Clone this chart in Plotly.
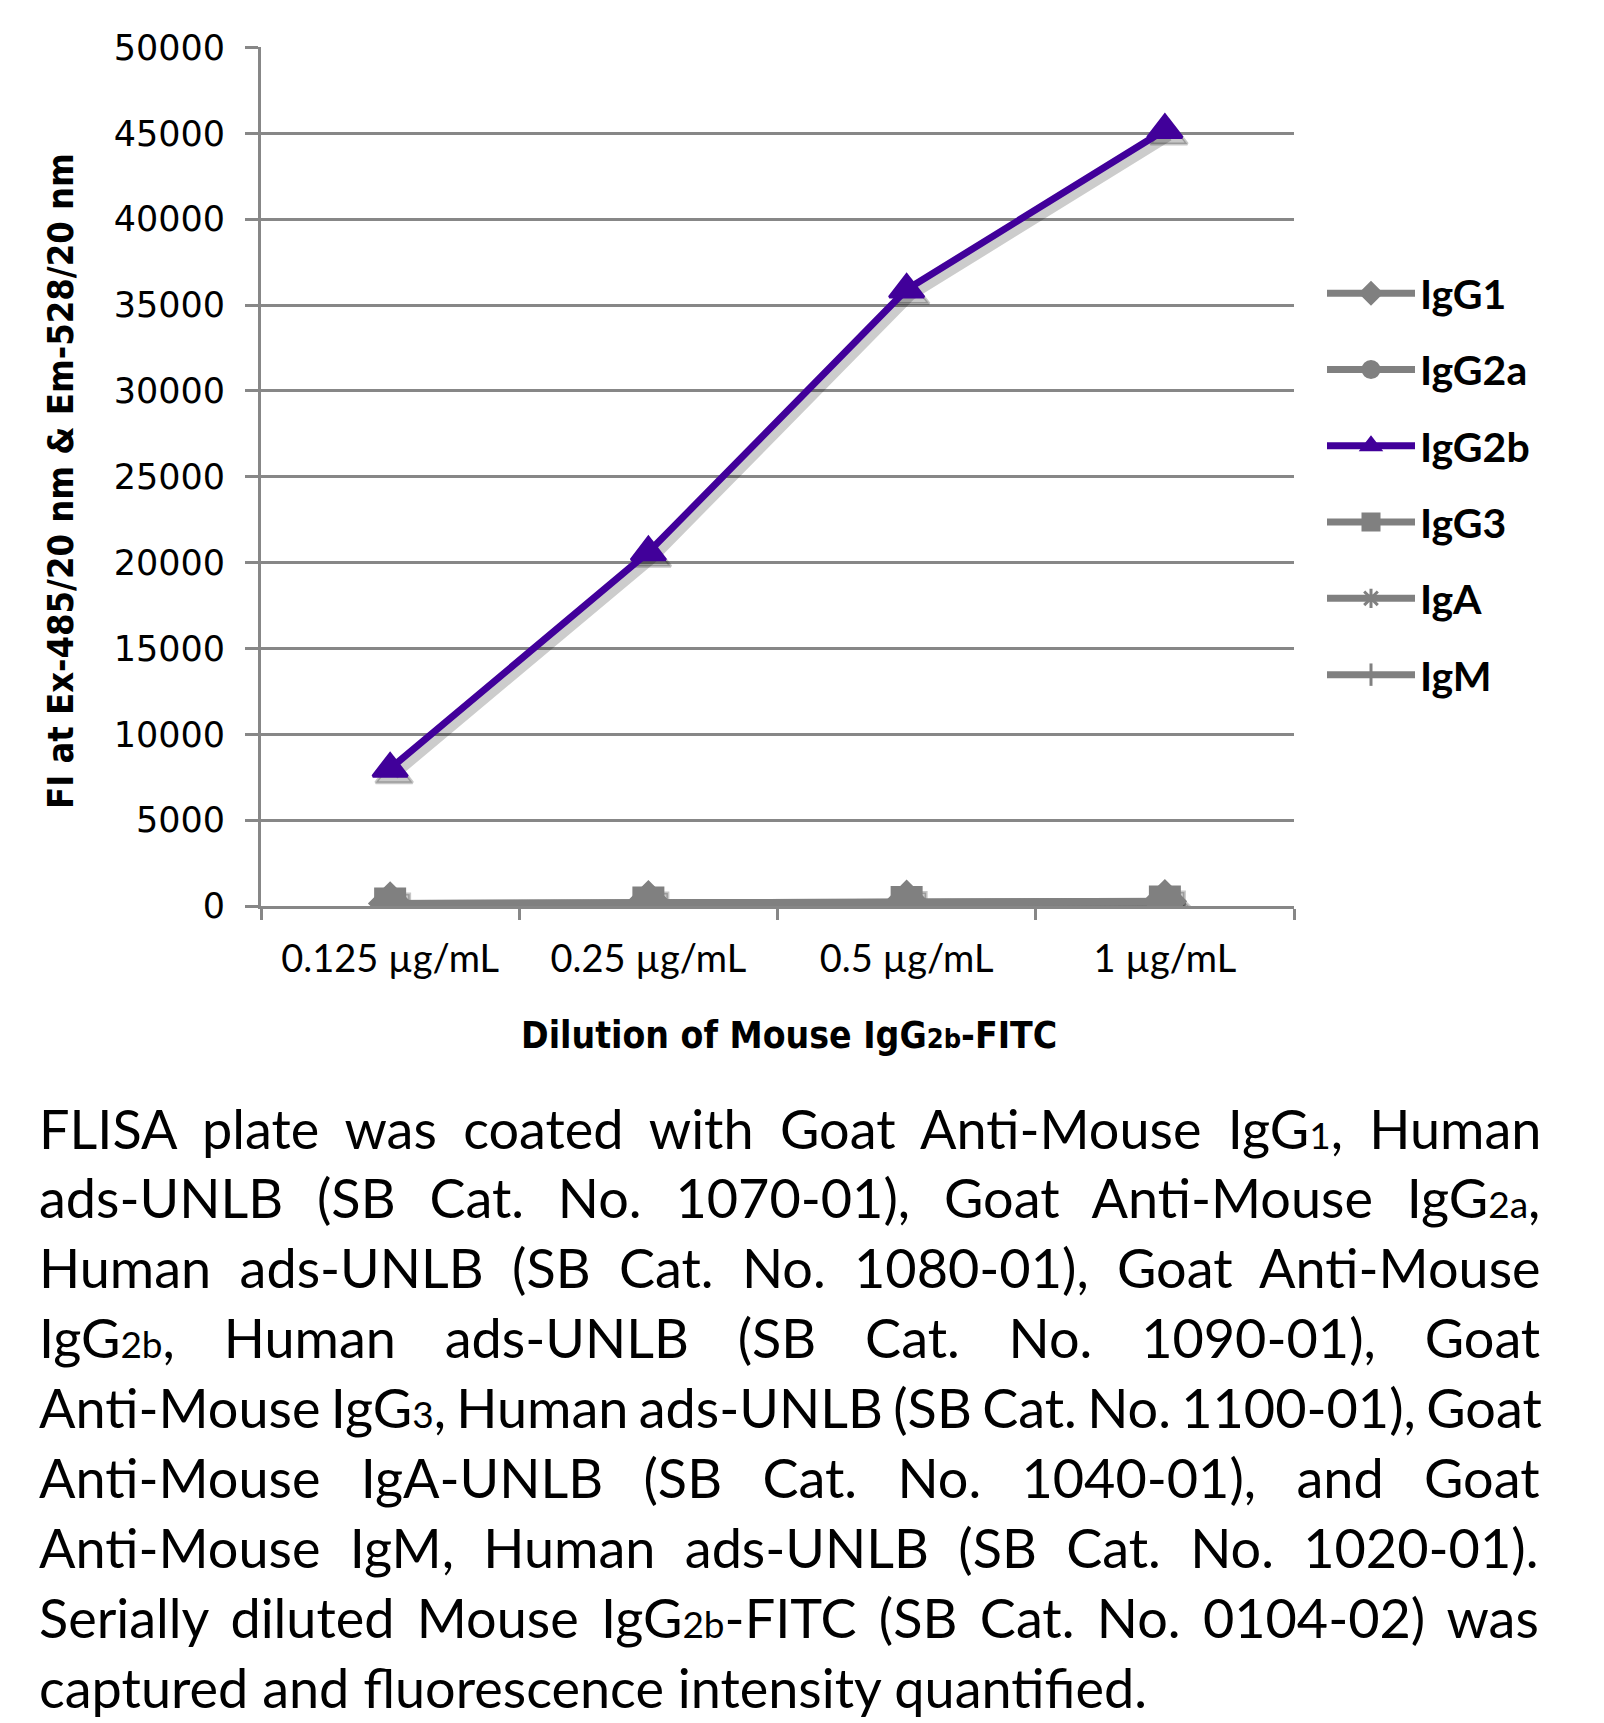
import plotly.graph_objects as go

# data
doses = ['0.125 µg/mL', '0.25 µg/mL', '0.5 µg/mL', '1 µg/mL']
series = ['IgG1', 'IgG2a', 'IgG2b', 'IgG3', 'IgA', 'IgM']
igg1 = [150, 220, 240, 270]
igg2a = [120, 190, 210, 240]
igg2b = [8000, 20600, 35900, 45200]
igg3 = [140, 210, 230, 260]
iga = [110, 170, 200, 230]
igm = [130, 200, 220, 250]
values = [igg1, igg2a, igg2b, igg3, iga, igm]

symbols = ['diamond', 'circle', 'triangle-up', 'square', 'asterisk-open', 'line-ns-open']
colors = ['#808080', '#808080', '#41009a', '#808080', '#808080', '#808080']
msizes = [31, 30, 30, 29, 26, 28]

W, H = 1604, 1723
OFF = 8  # page body margin
L, R, T, B = 261 - OFF, 1294 - OFF, 47 - OFF, 906 - OFF
grey = '#878787'

def px(x):
    return (x - OFF - L) / (R - L)

def py(y):
    return (B - (y - OFF)) / (B - T)

fig = go.Figure()

# soft drop shadow, drawn on the hidden base axes (shifted range)
for name, vals, sym, ms in zip(series, values, symbols, msizes):
    fig.add_scatter(x=doses, y=vals, mode='lines+markers', showlegend=False, hoverinfo='skip',
                    line=dict(color='rgba(0,0,0,0.2)', width=10),
                    marker=dict(symbol=sym, size=ms + 2, color='rgba(0,0,0,0.22)',
                                line=dict(color='rgba(0,0,0,0.22)', width=3)),
                    xaxis='x', yaxis='y')

for name, vals, sym, col, ms in zip(series, values, symbols, colors, msizes):
    fig.add_scatter(x=doses, y=vals, name=name, mode='lines+markers', legendgroup=name,
                    line=dict(color=col, width=7),
                    marker=dict(symbol=sym, size=ms, color=col, line=dict(color=col, width=3)),
                    xaxis='x2', yaxis='y2')

ytop = 50030
dx = 4 / ((R - L) / 4)
dy = 6 * ytop / (B - T)
fig.update_layout(
    width=W, height=H, paper_bgcolor='white', plot_bgcolor='white',
    margin=dict(l=L, r=W - R, t=T, b=H - B),
    xaxis=dict(visible=False, type='category', categoryarray=doses, range=[-0.5 - dx, 3.5 - dx]),
    yaxis=dict(visible=False, range=[dy, ytop + dy]),
    xaxis2=dict(overlaying='x', type='category', categoryarray=doses, range=[-0.5, 3.5],
                tickson='boundaries', ticks='outside', ticklen=11, tickwidth=3, tickcolor=grey,
                showline=True, linecolor=grey, linewidth=3, showgrid=False, zeroline=False,
                ticklabelstandoff=17,
                tickfont=dict(family='Lato', size=38, color='black')),
    yaxis2=dict(overlaying='y', range=[0, ytop], dtick=5000, tickformat='d',
                showgrid=True, gridcolor=grey, gridwidth=3, zeroline=False,
                showline=True, linecolor=grey, linewidth=3,
                ticks='outside', ticklen=13, tickwidth=3, tickcolor=grey,
                ticklabelstandoff=13,
                tickfont=dict(family='DejaVu Sans', size=35, color='black')),
    legend=dict(x=px(1322), xanchor='left', y=py(484), yanchor='middle',
                traceorder='grouped', tracegroupgap=20, itemwidth=88,
                font=dict(family='Lato', size=41, color='black', weight='bold'),
                bgcolor='rgba(0,0,0,0)'),
    showlegend=True,
)

bold_narrow = 'DejaVu Sans Condensed, DejaVu Sans, sans-serif'
fig.add_annotation(text='FI at Ex-485/20 nm &amp; Em-528/20 nm', textangle=-90,
                   x=px(60), y=py(481), xref='paper', yref='paper', showarrow=False,
                   xanchor='center', yanchor='middle',
                   font=dict(family=bold_narrow, size=36, color='black', weight='bold'))
fig.add_annotation(text="Dilution of Mouse IgG<span style='font-size:27px'>2b</span>-FITC",
                   x=px(789), y=py(1035), xref='paper', yref='paper', showarrow=False,
                   xanchor='center', yanchor='middle',
                   font=dict(family=bold_narrow, size=37, color='black', weight='bold'))

sub = "<span style='font-size:37px'>%s</span>"
caption = [
    'FLISA plate was coated with Goat Anti-Mouse IgG' + sub % '1' + ', Human',
    'ads-UNLB (SB Cat. No. 1070-01), Goat Anti-Mouse IgG' + sub % '2a' + ',',
    'Human ads-UNLB (SB Cat. No. 1080-01), Goat Anti-Mouse',
    'IgG' + sub % '2b' + ', Human ads-UNLB (SB Cat. No. 1090-01), Goat',
    'Anti-Mouse IgG' + sub % '3' + ', Human ads-UNLB (SB Cat. No. 1100-01), Goat',
    'Anti-Mouse IgA-UNLB (SB Cat. No. 1040-01), and Goat',
    'Anti-Mouse IgM, Human ads-UNLB (SB Cat. No. 1020-01).',
    'Serially diluted Mouse IgG' + sub % '2b' + '-FITC (SB Cat. No. 0104-02) was',
    'captured and fluorescence intensity quantified.',
]
# extra word spacing (px) to justify each line like the reference
word_gap = [12.5, 20, 14.5, 35, -3.5, 26.5, 15.5, 8.5, 0]
for i, line in enumerate(caption):
    txt = "<span style='word-spacing:%.1fpx'>%s</span>" % (word_gap[i], line)
    fig.add_annotation(text=txt, x=px(37), y=py(1128 + i * 69.9), xref='paper', yref='paper',
                       xanchor='left', yanchor='middle', showarrow=False, align='left',
                       font=dict(family='Lato', size=54, color='black'))

fig.write_html('out.html')
